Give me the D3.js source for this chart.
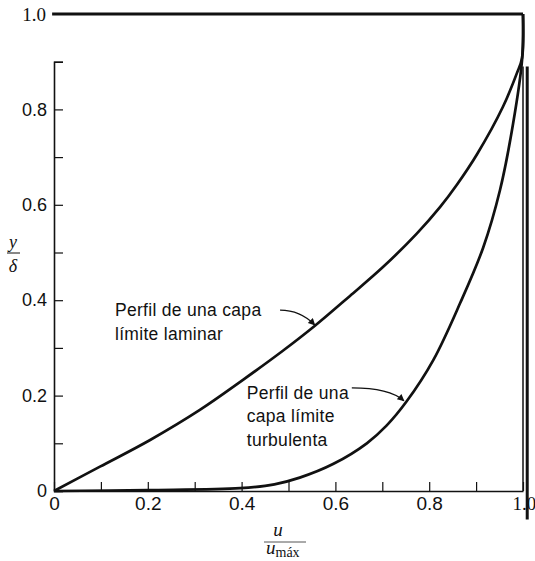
<!DOCTYPE html>
<html><head><meta charset="utf-8">
<script src="https://cdn.jsdelivr.net/npm/d3@7"></script>
<style>body{margin:0;background:#fff}</style>
</head><body>
<svg id="c" width="535" height="561"></svg>
<script>
// ---- data ----
const xTickValues = [0,0.1,0.2,0.3,0.4,0.5,0.6,0.7,0.8,0.9,1.0];
const xTickLabels = ["0","","0.2","","0.4","","0.6","","0.8","",""];
const yTickValues = [0,0.1,0.2,0.3,0.4,0.5,0.6,0.7,0.8,0.9];
const yTickLabels = ["0","","0.2","","0.4","","0.6","","0.8",""];
const topLabel = "1.0";
const rightLabel = "1.0";

const laminarU = [0,0.098,0.205,0.311,0.403,0.488,0.557,0.631,0.702,0.773,0.823,0.859,0.902,0.957,0.987,0.998,1.0];
const laminarV = [0,0.051,0.107,0.170,0.233,0.294,0.347,0.409,0.470,0.539,0.595,0.642,0.706,0.805,0.876,0.908,1.0];
const turbulentU = [0,0.2,0.397,0.470,0.524,0.596,0.667,0.709,0.752,0.809,0.866,0.915,0.951,0.979,0.998,1.0];
const turbulentV = [0,0.002,0.006,0.014,0.028,0.057,0.100,0.137,0.188,0.275,0.394,0.510,0.631,0.771,0.904,1.0];

const laminarText = ["Perfil de una capa","límite laminar"];
const turbulentText = ["Perfil de una","capa límite","turbulenta"];
// annotation anchors in data units (u, v)
const laminarTextAt = [0.130, 0.366];
const turbulentTextAt = [0.411, 0.193];
const laminarArrow = [[0.482,0.379],[0.525,0.379],[0.556,0.348]];
const turbulentArrow = [[0.635,0.216],[0.715,0.216],[0.746,0.189]];
const topEdge = [[-0.004,1.0],[1.0,1.0]];
const frameRight = [[1.0,0.0],[1.0,0.89]];
const outerEdge = [[1.009,0.89],[1.009,-0.06]];

// ---- drawing ----
const svg = d3.select("#c");
const x = d3.scaleLinear().domain([0,1]).range([54,523]);
const y = d3.scaleLinear().domain([0,1]).range([491,14]);
const ink = "#111";
const sans = "'Liberation Sans', Arial, sans-serif";
const serif = "'Liberation Serif', 'Times New Roman', serif";

const line = d3.line().x(d=>x(d[0])).y(d=>y(d[1]));

svg.append("path").attr("d", line(topEdge)).attr("stroke", ink).attr("stroke-width", 3).attr("fill","none");
svg.append("path").attr("d", line(frameRight)).attr("stroke", ink).attr("stroke-width", 1.5).attr("fill","none");
svg.append("path").attr("d", line(outerEdge)).attr("stroke", ink).attr("stroke-width", 3).attr("fill","none");

// bottom axis
const xAxis = d3.axisBottom(x).tickValues(xTickValues)
  .tickFormat((d,i)=>xTickLabels[i]).tickSizeInner(-9).tickSizeOuter(0).tickPadding(6);
const gx = svg.append("g").attr("transform",`translate(0,${y(0)})`).call(xAxis);
gx.select(".domain").attr("stroke", ink).attr("stroke-width",1.6);
gx.selectAll(".tick line").attr("stroke", ink).attr("stroke-width",1.2);
gx.selectAll(".tick text").attr("font-family", sans).attr("font-size", 19).attr("fill", ink);

// left axis
const yAx = y.copy().domain([0,0.9]).range([y(0), y(0.9)]);
const yAxis = d3.axisLeft(yAx).tickValues(yTickValues)
  .tickFormat((d,i)=>yTickLabels[i]).tickSizeInner(-9).tickSizeOuter(-9).tickPadding(7);
const gy = svg.append("g").attr("transform",`translate(${x(0)},0)`).call(yAxis);
gy.select(".domain").attr("stroke", ink).attr("stroke-width",1.6).attr("fill","none");
gy.selectAll(".tick line").attr("stroke", ink).attr("stroke-width",1.2);
gy.selectAll(".tick text").attr("font-family", sans).attr("font-size", 18).attr("fill", ink);

svg.append("text").attr("x", x(0)-8).attr("y", y(1)).attr("dy","0.35em")
  .attr("text-anchor","end").attr("font-family", serif).attr("font-size", 19).attr("fill", ink).text(topLabel);
svg.append("text").attr("x", x(1.003)).attr("y", y(0)+6).attr("dy","0.71em")
  .attr("text-anchor","middle").attr("font-family", serif).attr("font-size", 19).attr("fill", ink).text(rightLabel);

// curves
const curve = d3.line().x(d=>x(d[0])).y(d=>y(d[1])).curve(d3.curveCatmullRom.alpha(0.5));
const lam = laminarU.map((u,i)=>[u, laminarV[i]]);
const tur = turbulentU.map((u,i)=>[u, turbulentV[i]]);
svg.append("path").attr("d", curve(lam)).attr("stroke", ink).attr("stroke-width", 2.7).attr("fill","none");
svg.append("path").attr("d", curve(tur)).attr("stroke", ink).attr("stroke-width", 2.7).attr("fill","none");

svg.append("defs").append("marker").attr("id","ah").attr("viewBox","0 0 10 10")
  .attr("refX",9).attr("refY",5).attr("markerWidth",9).attr("markerHeight",7)
  .attr("markerUnits","userSpaceOnUse").attr("orient","auto")
  .append("path").attr("d","M0,0L10,5L0,10z").attr("fill", ink);

function arrow(pts){
  const p = d3.path();
  p.moveTo(x(pts[0][0]), y(pts[0][1]));
  p.quadraticCurveTo(x(pts[1][0]), y(pts[1][1]), x(pts[2][0]), y(pts[2][1]));
  svg.append("path").attr("d", p.toString()).attr("stroke", ink).attr("stroke-width",1.3)
    .attr("fill","none").attr("marker-end","url(#ah)");
}
arrow(laminarArrow);
arrow(turbulentArrow);

function block(lines, at){
  const t = svg.append("text").attr("font-family", sans).attr("font-size", 17.5).attr("fill", ink)
    .attr("letter-spacing","0.3px");
  lines.forEach((s,i)=>{
    t.append("tspan").attr("x", x(at[0])).attr("y", y(at[1]) + i*23.5).text(s);
  });
}
block(laminarText, laminarTextAt);
block(turbulentText, turbulentTextAt);

// axis titles (fractions)
const yl = svg.append("g");
yl.append("text").attr("x",13).attr("y",248).attr("text-anchor","middle")
  .attr("font-family", serif).attr("font-style","italic").attr("font-size",18).attr("fill",ink).text("y");
yl.append("line").attr("x1",7).attr("x2",20).attr("y1",253).attr("y2",253).attr("stroke",ink).attr("stroke-width",1);
yl.append("text").attr("x",13).attr("y",272).attr("text-anchor","middle")
  .attr("font-family", serif).attr("font-style","italic").attr("font-size",18).attr("fill",ink).text("δ");

const xl = svg.append("g");
xl.append("text").attr("x",278).attr("y",536).attr("text-anchor","middle")
  .attr("font-family", serif).attr("font-style","italic").attr("font-size",19).attr("fill",ink).text("u");
xl.append("line").attr("x1",264).attr("x2",306).attr("y1",542).attr("y2",542).attr("stroke","#555").attr("stroke-width",1);
const den = xl.append("text").attr("x",266).attr("y",554)
  .attr("font-family", serif).attr("font-size",19).attr("fill",ink);
den.append("tspan").attr("font-style","italic").text("u");
den.append("tspan").attr("font-size",14).attr("dy",3).text("máx");
</script>
</body></html>
